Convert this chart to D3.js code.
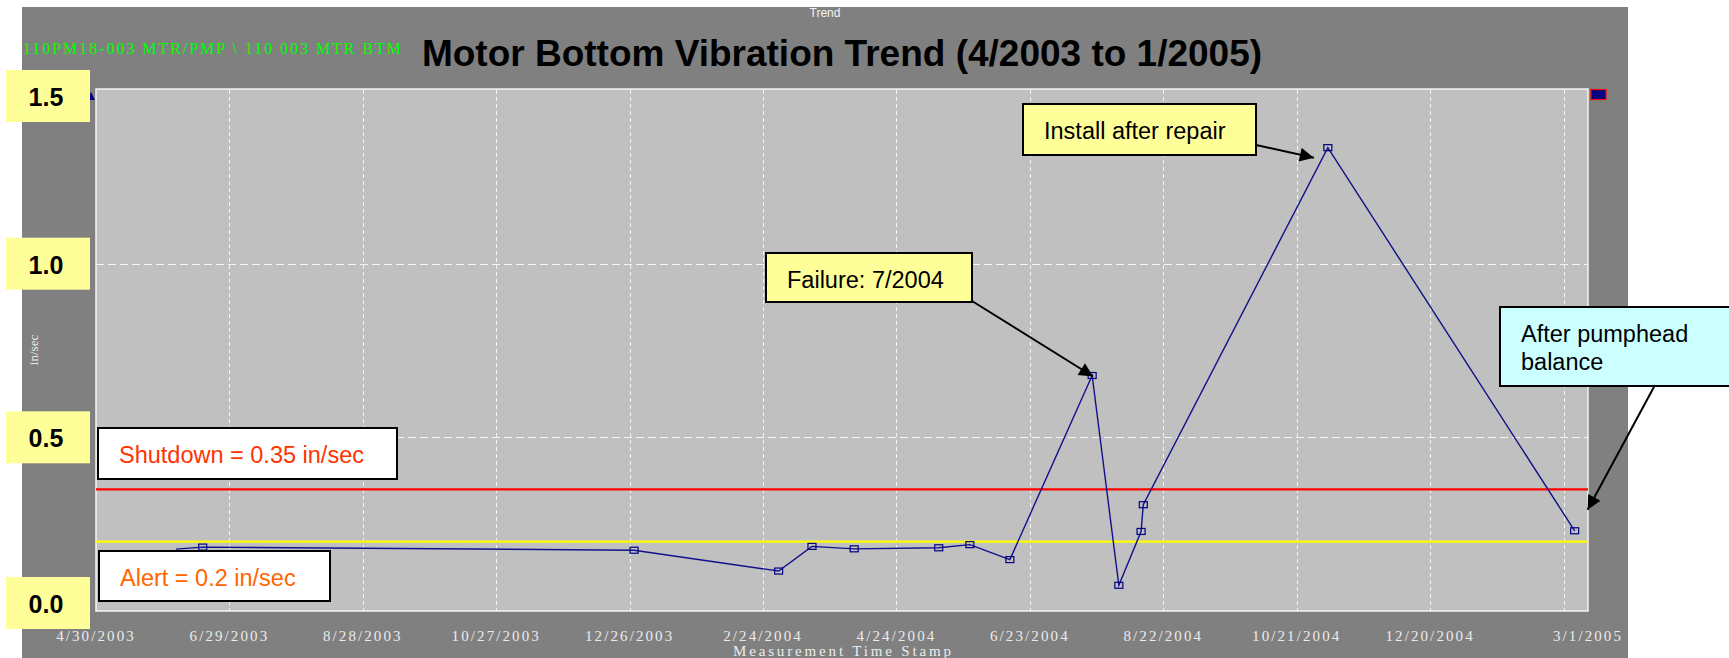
<!DOCTYPE html>
<html>
<head>
<meta charset="utf-8">
<script src="https://cdn.jsdelivr.net/npm/d3@7"></script>
<style>
  body { margin: 0; background: #fff; }
  svg { display: block; }
</style>
</head>
<body>
<svg width="1729" height="658"></svg>
<script>
var svg = d3.select('svg')
var parse = d3.timeParse('%m/%d/%Y')

// measurement dates and vibration (in/sec)
var dates = ['6/5/2003', '6/17/2003', '12/28/2003', '3/2/2004', '3/17/2004', '4/5/2004',
  '5/13/2004', '5/27/2004', '6/14/2004', '7/21/2004', '8/2/2004', '8/12/2004',
  '8/13/2004', '11/4/2004', '2/23/2005']
var values = [0.178, 0.184, 0.175, 0.115, 0.186, 0.179,
  0.182, 0.191, 0.148, 0.678, 0.074, 0.229,
  0.306, 1.334, 0.231]

// x tick labels (every 60 days, last one at the end of the axis)
var tickLabels = ['4/30/2003', '6/29/2003', '8/28/2003', '10/27/2003', '12/26/2003', '2/24/2004',
  '4/24/2004', '6/23/2004', '8/22/2004', '10/21/2004', '12/20/2004', '3/1/2005']
var extraGrid = ['2/18/2005']

var yTicks = [1.5, 1.0, 0.5, 0.0]
var yGrid = [0.5, 1.0]

var thresholds = [0.35, 0.2]
var thresholdColors = ['#ff0000', '#ffff00']

var data = dates.map(function (d, i) { return { date: parse(d), value: values[i] } })

var plot = { left: 96, top: 90, right: 1588, bottom: 611 }

var x = d3.scaleTime()
  .domain([parse(tickLabels[0]), parse(tickLabels[tickLabels.length - 1])])
  .range([plot.left, plot.right])
var y = d3.scaleLinear()
  .domain([0, 1.5])
  .range([plot.bottom, plot.top])

// outer gray frame
svg.append('rect')
  .attr('x', 22).attr('y', 7)
  .attr('width', 1606).attr('height', 651)
  .attr('fill', '#808080')

// plot background
svg.append('rect')
  .attr('x', plot.left).attr('y', plot.top - 1)
  .attr('width', plot.right - plot.left).attr('height', plot.bottom - plot.top + 1)
  .attr('fill', '#c0c0c0')
  .attr('stroke', '#f4f4f4')
  .attr('stroke-width', 1.5)

// grid
var gridDates = tickLabels.slice(1, -1).concat(extraGrid).map(parse)
svg.append('g')
  .selectAll('line')
  .data(gridDates)
  .enter().append('line')
    .attr('x1', d => Math.round(x(d)) + 0.5)
    .attr('x2', d => Math.round(x(d)) + 0.5)
    .attr('y1', plot.top)
    .attr('y2', plot.bottom)
    .attr('stroke', '#f4f4f4')
    .attr('stroke-dasharray', '4,3')

svg.append('g')
  .selectAll('line')
  .data(yGrid)
  .enter().append('line')
    .attr('x1', plot.left)
    .attr('x2', plot.right)
    .attr('y1', d => Math.round(y(d)) + 0.5)
    .attr('y2', d => Math.round(y(d)) + 0.5)
    .attr('stroke', '#f4f4f4')
    .attr('stroke-dasharray', '8,4')

// alarm lines
svg.append('g')
  .selectAll('line')
  .data(thresholds)
  .enter().append('line')
    .attr('x1', plot.left)
    .attr('x2', plot.right)
    .attr('y1', d => y(d))
    .attr('y2', d => y(d))
    .attr('stroke', (d, i) => thresholdColors[i])
    .attr('stroke-width', 2.2)

// trend line
var line = d3.line()
  .x(d => x(d.date))
  .y(d => y(d.value))

svg.append('path')
  .datum(data)
  .attr('d', line)
  .attr('fill', 'none')
  .attr('stroke', '#10108a')
  .attr('stroke-width', 1.4)

// first reading has no visible marker in the original
svg.append('g')
  .selectAll('rect')
  .data(data.slice(1))
  .enter().append('rect')
    .attr('x', d => x(d.date) - 4)
    .attr('y', d => y(d.value) - 3)
    .attr('width', 8)
    .attr('height', 6)
    .attr('fill', 'none')
    .attr('stroke', '#000080')
    .attr('stroke-width', 1.2)

// little legend swatch top right
svg.append('rect')
  .attr('x', 1591).attr('y', 89.5)
  .attr('width', 15).attr('height', 10)
  .attr('fill', '#000080')
  .attr('stroke', '#ff0000')
  .attr('stroke-width', 1.2)

// x tick labels
svg.append('g')
  .selectAll('text')
  .data(tickLabels)
  .enter().append('text')
    .attr('x', d => x(parse(d)))
    .attr('y', 641)
    .attr('text-anchor', 'middle')
    .attr('font-family', 'Liberation Serif')
    .attr('font-size', 15)
    .attr('letter-spacing', 2.1)
    .attr('fill', '#ececec')
    .text(d => d)

svg.append('text')
  .attr('x', (plot.left + plot.right) / 2)
  .attr('y', 656)
  .attr('text-anchor', 'middle')
  .attr('font-family', 'Liberation Serif')
  .attr('font-size', 15)
  .attr('textLength', 218)
  .attr('fill', '#ececec')
  .text('Measurement Time Stamp')

svg.append('text')
  .attr('transform', 'translate(38,350) rotate(-90)')
  .attr('text-anchor', 'middle')
  .attr('font-family', 'Liberation Serif')
  .attr('font-size', 13)
  .attr('fill', '#ececec')
  .text('in/sec')

// header texts
svg.append('text')
  .attr('x', 825).attr('y', 17)
  .attr('text-anchor', 'middle')
  .attr('font-family', 'Liberation Sans')
  .attr('font-size', 12)
  .attr('fill', '#f4f4f4')
  .text('Trend')

svg.append('text')
  .attr('x', 23).attr('y', 54)
  .attr('font-family', 'Liberation Serif')
  .attr('font-size', 16)
  .attr('textLength', 378)
  .attr('fill', '#00ff00')
  .text('110PM18-003 MTR/PMP \\ 110 003 MTR BTM')

svg.append('text')
  .attr('x', (plot.left + plot.right) / 2).attr('y', 66)
  .attr('text-anchor', 'middle')
  .attr('font-family', 'Liberation Sans')
  .attr('font-weight', 'bold')
  .attr('font-size', 37)
  .attr('fill', '#000')
  .text('Motor Bottom Vibration Trend (4/2003 to 1/2005)')

// small axis arrow partly hidden by the 1.5 label
svg.append('path')
  .attr('d', 'M' + (plot.left - 9) + ',' + (y(1.5) + 10) + 'l8,0l-4,-8z')
  .attr('fill', '#000080')

// yellow y labels
var yl = svg.append('g')
  .selectAll('g')
  .data(yTicks)
  .enter().append('g')
    .attr('transform', d => 'translate(6,' + Math.max(70, Math.min(577, y(d) - 26)) + ')')
yl.append('rect')
  .attr('width', 84).attr('height', 52)
  .attr('fill', '#ffff99')
yl.append('text')
  .attr('x', 40).attr('y', 36)
  .attr('text-anchor', 'middle')
  .attr('font-family', 'Liberation Sans')
  .attr('font-weight', 'bold')
  .attr('font-size', 25)
  .attr('fill', '#000')
  .text(d => d.toFixed(1))

// callouts
svg.append('defs').append('marker')
  .attr('id', 'head')
  .attr('markerUnits', 'userSpaceOnUse')
  .attr('viewBox', '0 0 10 10')
  .attr('refX', 10).attr('refY', 5)
  .attr('markerWidth', 17).attr('markerHeight', 14)
  .attr('orient', 'auto')
  .append('path')
    .attr('d', 'M0,0L10,5L0,10z')
    .attr('fill', '#000')

function box (x0, y0, w, h, fill, lines, color) {
  svg.append('rect')
    .attr('x', x0).attr('y', y0)
    .attr('width', w).attr('height', h)
    .attr('fill', fill)
    .attr('stroke', '#000')
    .attr('stroke-width', 2)
  lines.forEach(function (t, i) {
    svg.append('text')
      .attr('x', x0 + 21).attr('y', y0 + 35 + i * 27.5)
      .attr('font-family', 'Liberation Sans')
      .attr('font-size', 23.5)
      .attr('fill', color)
      .text(t)
  })
}

function arrow (x1, y1, x2, y2) {
  svg.append('line')
    .attr('x1', x1).attr('y1', y1)
    .attr('x2', x2).attr('y2', y2)
    .attr('stroke', '#000')
    .attr('stroke-width', 2)
    .attr('marker-end', 'url(#head)')
}

box(98, 428, 299, 51, '#ffffff', ['Shutdown = 0.35 in/sec'], '#ff3300')
box(99, 551, 231, 50, '#ffffff', ['Alert = 0.2 in/sec'], '#ff6600')

var fail = data[9]
var peak = data[13]
var last = data[data.length - 1]

box(766, 253, 206, 49, '#ffff99', ['Failure: 7/2004'], '#000')
arrow(972, 301, x(fail.date) + 1, y(fail.value) + 1)

box(1023, 104, 233, 51, '#ffff99', ['Install after repair'], '#000')
arrow(1256, 145, x(peak.date) - 14, y(peak.value) + 10)

box(1500, 307, 240, 79, '#ccffff', ['After pumphead', 'balance'], '#000')
arrow(1655, 385, x(last.date) + 13, y(last.value) - 21)
</script>
</body>
</html>
